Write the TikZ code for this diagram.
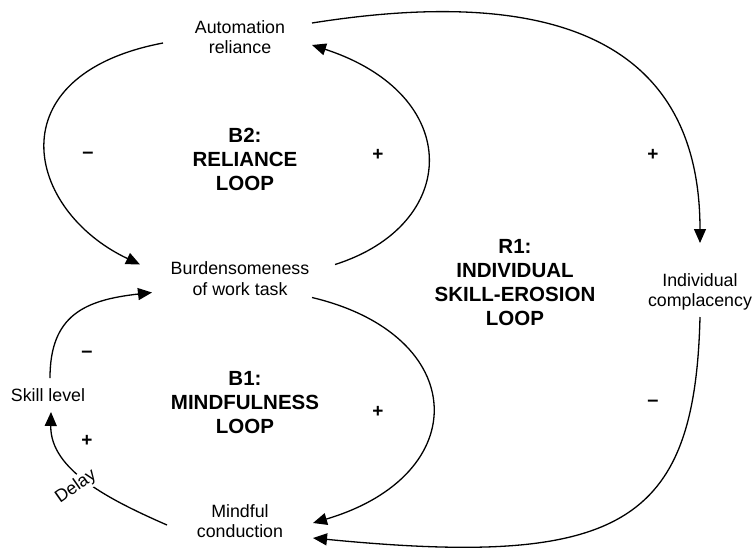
\documentclass[tikz,border=0pt]{standalone}
\usepackage{fontspec}
\setmainfont{Liberation Sans}
\usetikzlibrary{arrows.meta}
\begin{document}
\begin{tikzpicture}[x=1pt,y=-1pt,
  var/.style={inner sep=0pt, align=center, font=\fontsize{17.8pt}{20.5pt}\selectfont},
  looplabel/.style={inner sep=0pt, align=center, font=\bfseries\fontsize{20.5pt}{24pt}\selectfont},
  sign/.style={inner sep=0pt, font=\bfseries\fontsize{19pt}{22pt}\selectfont},
  dashsign/.style={inner sep=0pt, font=\bfseries\fontsize{20pt}{22pt}\selectfont},
  link/.style={line width=1.3pt, -{Triangle[length=14pt,width=12pt]}},
]
\useasboundingbox (0,0) rectangle (756,550);

% variables
\node[var] (ar) at (240,37) {Automation\\reliance};
\node[var] (bw) at (240,278.5) {Burdensomeness\\of work task};
\node[var] (ic) at (700,292) {Individual\\complacency};
\node[var] (sl) at (48,395) {Skill level};
\node[var] (mc) at (240,521) {Mindful\\conduction};

% loop labels
\node[looplabel] (b2) at (245,159) {B2:\\RELIANCE\\LOOP};
\node[looplabel] (b1) at (245,403) {B1:\\MINDFULNESS\\LOOP};
\node[looplabel] (r1) at (515,283) {R1:\\INDIVIDUAL\\SKILL-EROSION\\LOOP};

% links
\draw[link] ([shift={(-77,6)}]ar.center) .. controls (-5,75) and (25,210) .. ([shift={(-100,-14)}]bw.center);
\draw[link] ([shift={(95,-14)}]bw.center) .. controls (460,225) and (465,95) .. ([shift={(72,8)}]ar.center);
\draw[link] ([shift={(72,-14)}]ar.center) .. controls (520,-10) and (700,20) .. ([shift={(0,-49)}]ic.center);
\draw[link] ([shift={(0,25)}]ic.center) .. controls (695,525) and (620,568) .. ([shift={(73,17)}]mc.center);
\draw[link] ([shift={(72,19)}]bw.center) .. controls (470,335) and (475,475) .. ([shift={(73,2)}]mc.center);
\draw[link] ([shift={(-73,4)}]mc.center) .. controls (110,500) and (50,470) .. ([shift={(3,17)}]sl.center);
\draw[link] ([shift={(2,-17)}]sl.center) .. controls (50,315) and (85,300) .. ([shift={(-88,14)}]bw.center);

\node[var, fill=white, inner sep=1.5pt, rotate=35] (delay) at (76,487) {Delay};

% polarity signs
\node[dashsign] (p1) at (88,155) {–};
\node[sign] (p2) at (378,155) {+};
\node[sign] (p3) at (653,155) {+};
\node[dashsign] (p4) at (653,403) {–};
\node[dashsign] (p5) at (87,354) {–};
\node[sign] (p6) at (87,441) {+};
\node[sign] (p7) at (378,412) {+};
\end{tikzpicture}
\end{document}
